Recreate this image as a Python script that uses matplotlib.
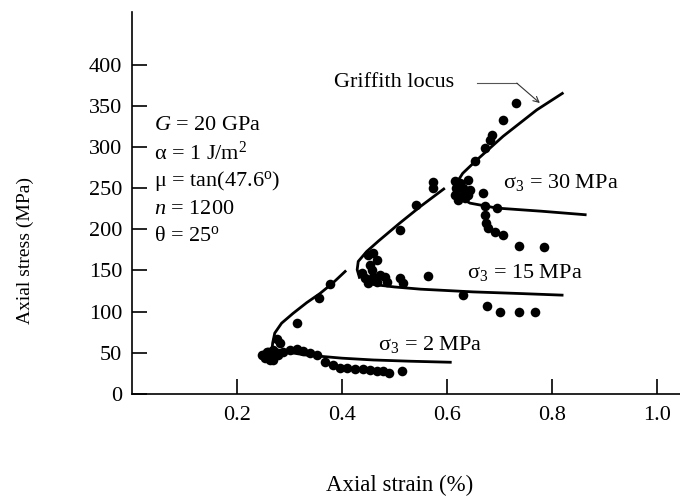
import matplotlib
matplotlib.use("Agg")
import matplotlib.pyplot as plt

plt.rcParams['font.family'] = ['Liberation Serif', 'DejaVu Serif']
plt.rcParams['mathtext.fontset'] = 'custom'
plt.rcParams['mathtext.rm'] = 'Liberation Serif'
plt.rcParams['mathtext.it'] = 'Liberation Serif:italic'
plt.rcParams['mathtext.bf'] = 'Liberation Serif:bold'

# ---- data ----
# Griffith locus segments (strain %, stress MPa)
locus1_x = [0.267, 0.268, 0.272, 0.285, 0.307, 0.333, 0.358, 0.383, 0.408]
locus1_y = [55, 62, 74, 86, 98, 111, 122, 135, 150]
locus2_x = [0.434, 0.429, 0.431, 0.447, 0.470, 0.510, 0.550, 0.596]
locus2_y = [140, 151, 161, 173, 186, 207.5, 228, 250]
locus3_x = [0.614, 0.617, 0.630, 0.653, 0.707, 0.771, 0.822]
locus3_y = [244, 255, 268, 282, 313, 345, 366]

# post-peak model curves
s2_x = [0.270, 0.290, 0.330, 0.400, 0.460, 0.530, 0.609]
s2_y = [55, 51.5, 47.4, 43.5, 41.3, 39.8, 38.5]
s15_x = [0.440, 0.460, 0.500, 0.550, 0.650, 0.740, 0.822]
s15_y = [138, 133, 130, 127.3, 124, 122, 120]
s30_x = [0.618, 0.644, 0.695, 0.780, 0.866]
s30_y = [241, 231.8, 225.8, 222, 217.6]

# experimental points
p2_x = [0.247, 0.253, 0.263, 0.260, 0.250, 0.257, 0.269, 0.269, 0.279, 0.269,
        0.282, 0.276, 0.288, 0.301, 0.314, 0.326, 0.339, 0.352, 0.368, 0.383,
        0.396, 0.410, 0.425, 0.440, 0.453, 0.466, 0.478, 0.490, 0.514,
        0.314, 0.356, 0.377]
p2_y = [47.4, 43.4, 41.3, 51.4, 47.4, 51.4, 49.5, 41.3, 47.4, 53.5,
        62, 67, 51.4, 53.5, 54.3, 52.7, 50.2, 47.4, 39, 35,
        32, 31, 30, 30.5, 29.5, 28.5, 27.5, 26, 28.5,
        86.7, 117, 133.7]
p15_x = [0.4375, 0.444, 0.450, 0.4565, 0.460, 0.466, 0.472, 0.482, 0.485, 0.510,
         0.517, 0.450, 0.460, 0.466, 0.453, 0.564, 0.631, 0.676, 0.701, 0.738,
         0.768, 0.510, 0.542, 0.574, 0.574]
p15_y = [146.7, 140.6, 134.6, 150.8, 142.6, 136.5, 144.7, 142.6, 136.5, 140.6,
         134.6, 169, 171, 163, 156.8, 143.5, 120, 106.5, 99.5, 100,
         100, 199.4, 229.8, 258, 250]
p30_x = [0.615, 0.625, 0.641, 0.618, 0.631, 0.644, 0.615, 0.628, 0.641, 0.622,
         0.634, 0.669, 0.672, 0.696, 0.672, 0.674, 0.679, 0.691, 0.707, 0.738,
         0.785, 0.653, 0.672, 0.682, 0.685, 0.707, 0.731]
p30_y = [258.1, 256.2, 260.2, 250.1, 250.1, 248.0, 241.9, 241.9, 241.9, 235.9,
         237.9, 244.0, 228.6, 225.8, 217.6, 207.5, 201.4, 197.3, 193.3, 180.3,
         179.1, 282.4, 298.7, 308.8, 314.9, 333.1, 353.4]

xticks = [0.2, 0.4, 0.6, 0.8, 1.0]
xticklabels = ['0.2', '0.4', '0.6', '0.8', '1.0']
yticks = [0, 50, 100, 150, 200, 250, 300, 350, 400]
yticklabels = ['0', '50', '100', '150', '200', '250', '300', '350', '400']

params = [r'$G$ = 20 GPa', r'α = 1 J/m$^2$', r'μ = tan(47.6$^{\rm o}$)',
          r'$n$ = 1200', r'θ = 25$^{\rm o}$']

# ---- figure ----
fig = plt.figure(figsize=(6.8, 5.01), dpi=100)
ax = fig.add_axes([0.1941, 0.2136, 0.8059, 0.7625])
ax.set_xlim(0, 1.044)
ax.set_ylim(0, 464)

lw = 2.0
for xs, ys in [(locus1_x, locus1_y), (locus2_x, locus2_y), (locus3_x, locus3_y),
               (s2_x, s2_y), (s15_x, s15_y), (s30_x, s30_y)]:
    ax.plot(xs, ys, color='black', lw=lw, solid_capstyle='butt')

for xs, ys in [(p2_x, p2_y), (p15_x, p15_y), (p30_x, p30_y)]:
    ax.scatter(xs, ys, s=48, color='black', zorder=3, linewidths=0)

for s in ['top', 'right']:
    ax.spines[s].set_visible(False)
for s in ['left', 'bottom']:
    ax.spines[s].set_linewidth(1.2)

ax.set_xticks(xticks)
ax.set_xticklabels(xticklabels)
ax.set_yticks(yticks)
ax.set_yticklabels(yticklabels)
ax.tick_params(axis='both', direction='in', length=11, width=1.2, labelsize=16)
ax.tick_params(axis='x', pad=9)
ax.tick_params(axis='y', pad=7)

fig.text(400 / 680, 1 - 485 / 501, 'Axial strain (%)', fontsize=16.5,
         ha='center', va='center')
fig.text(25 / 680, 1 - 250 / 501, 'Axial stress (MPa)', fontsize=14,
         ha='center', va='center', rotation=90)

# parameter block
for i, t in enumerate(params):
    ax.text(0.042, 326 - i * 33.8, t, fontsize=16, ha='left', va='center')

# curve labels
ax.text(0.707, 256.5, r'σ$_3$ = 30 MPa', fontsize=16, ha='left', va='center')
ax.text(0.638, 148, r'σ$_3$ = 15 MPa', fontsize=16, ha='left', va='center')
ax.text(0.469, 59.6, r'σ$_3$ = 2 MPa', fontsize=16, ha='left', va='center')

# Griffith locus annotation
ax.text(0.50, 378, 'Griffith locus', fontsize=16, ha='center', va='center')
ax.plot([0.6566, 0.733], [377.6, 377.6], color='#555555', lw=0.8)
ax.annotate('', xy=(0.777, 353.4), xytext=(0.733, 377.6),
            arrowprops=dict(arrowstyle='->', color='#333333', lw=0.8,
                            mutation_scale=10, shrinkA=0, shrinkB=0))

fig.savefig('out.png', dpi=100)
